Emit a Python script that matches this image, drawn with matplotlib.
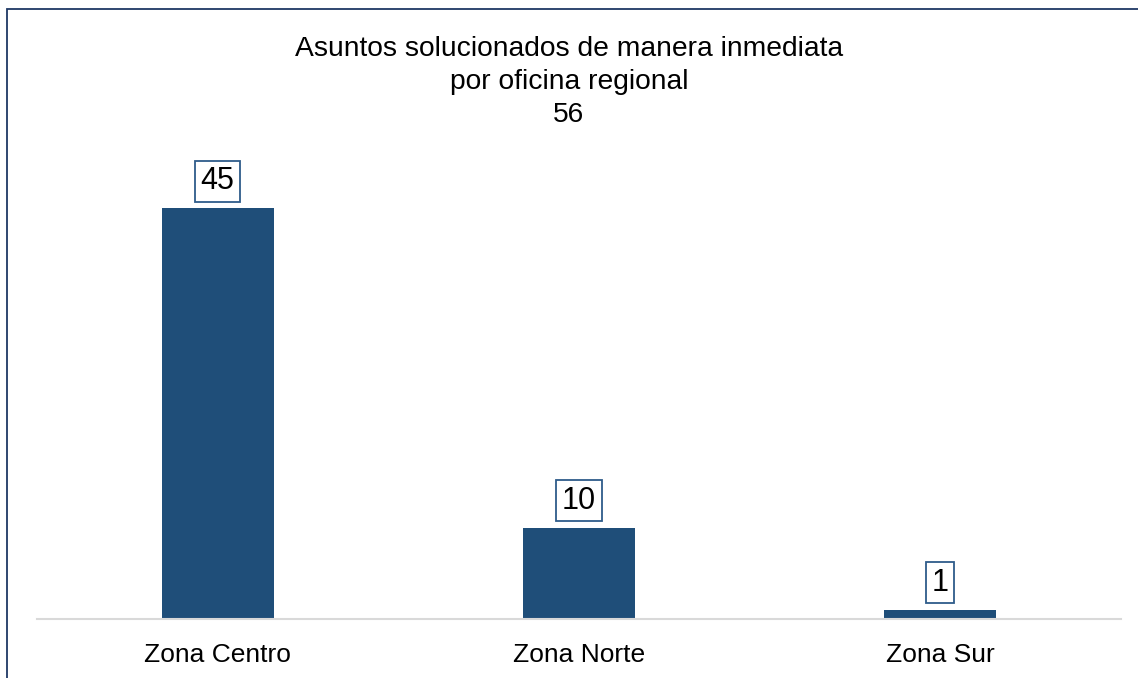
import matplotlib.pyplot as plt
from matplotlib.patches import Rectangle

# datos del grafico
zonas = ['Zona Centro', 'Zona Norte', 'Zona Sur']
asuntos = [45, 10, 1]
total = 56

W, H = 1138, 678


def main():
	fig = plt.figure(figsize=(W / 100, H / 100), dpi=100)
	fig.patch.set_facecolor('white')

	# marco exterior (solo arriba e izquierda visibles)
	fig.add_artist(Rectangle((7 / W, -0.1), 1.2, 1 - 9.5 / H + 0.1,
		transform=fig.transFigure, fill=False, edgecolor='#1F3864', linewidth=1.3))

	ax = fig.add_axes([37 / W, (H - 619) / H, 1084 / W, 456.5 / H])
	x = range(len(zonas))
	ax.bar(x, asuntos, width=0.31, color='#1F4E79')
	ax.set_xlim(-0.5, 2.5)
	ax.set_ylim(0, 50)

	for i, v in zip(x, asuntos):
		ax.annotate(str(v), (i, v), xytext=(0, 19.5), textcoords='offset points',
			ha='center', va='center', fontsize=22, family='Liberation Sans',
			bbox=dict(boxstyle='square,pad=0.18', fc='white', ec='#2E5C8A', lw=1.3))

	for s in ['top', 'right', 'left']:
		ax.spines[s].set_visible(False)
	ax.spines['bottom'].set_color('#D9D9D9')
	ax.spines['bottom'].set_linewidth(1.5)
	ax.set_yticks([])
	ax.set_xticks(list(x))
	ax.set_xticklabels(zonas, fontsize=19, family='Liberation Sans')
	ax.tick_params(axis='x', length=0, pad=17)

	fig.text(0.5, 1 - 82 / H, 'Asuntos solucionados de manera inmediata\npor oficina regional\n%d' % total,
		ha='center', va='center', fontsize=20.3, family='Liberation Sans',
		linespacing=1.33)

	fig.savefig('out.png', dpi=100)


if __name__ == "__main__":
	main()
